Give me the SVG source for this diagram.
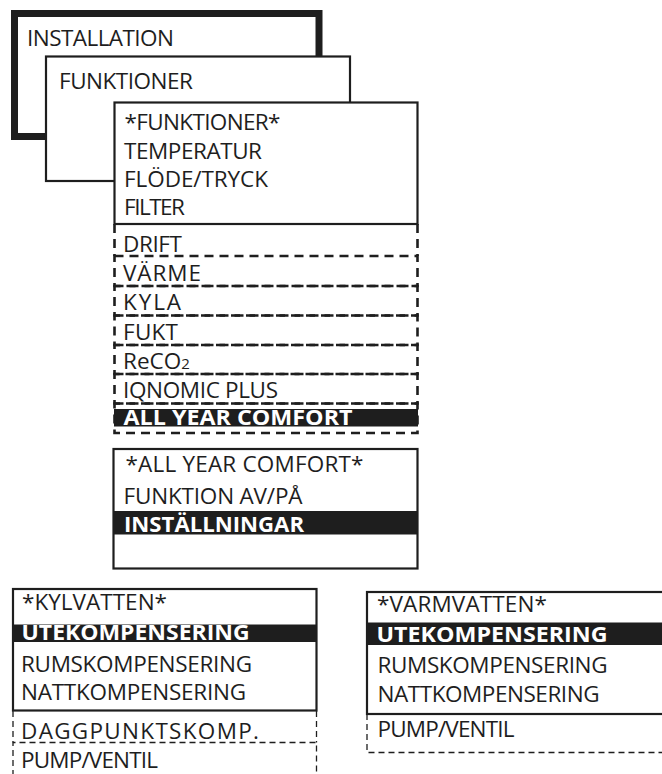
<svg xmlns="http://www.w3.org/2000/svg" width="662" height="774" viewBox="0 0 662 774">
<style>
text{font-family:"Open Sans","Noto Sans","Liberation Sans",sans-serif;font-size:22.5px;fill:#1e1e1e}
.b{font-weight:bold;fill:#fff;font-size:21.5px}
.box{fill:#fff;stroke:#1e1e1e;stroke-width:2.2}
.d1{fill:none;stroke:#1e1e1e;stroke-width:2.6;stroke-dasharray:9 6}
.d2{fill:none;stroke:#1e1e1e;stroke-width:1.3;stroke-dasharray:6 4}
.bar{fill:#1e1e1e}
</style>
<g id="installation">
<rect x="14.5" y="13.5" width="304.5" height="123" fill="#fff" stroke="#1e1e1e" stroke-width="7"/>
<text x="27" y="46" textLength="147" lengthAdjust="spacing">INSTALLATION</text>
</g>
<g id="funktioner">
<rect class="box" x="46" y="56.5" width="304" height="124.5"/>
<text x="59" y="88.5" textLength="134" lengthAdjust="spacing">FUNKTIONER</text>
</g>
<g id="funktioner-menu">
<rect class="box" x="114.5" y="102.5" width="303" height="121.5"/>
<text x="124.5" y="130" textLength="156" lengthAdjust="spacing">*FUNKTIONER*</text>
<text x="124" y="158.5" textLength="138" lengthAdjust="spacing">TEMPERATUR</text>
<text x="124" y="186.5" textLength="144" lengthAdjust="spacing">FLÖDE/TRYCK</text>
<text x="124" y="215" textLength="61" lengthAdjust="spacing">FILTER</text>
</g>
<g id="funktioner-list">
<path class="d1" d="M114.5 224V256M417.5 224V256"/>
<rect class="d1" x="114.5" y="256" width="303" height="30"/>
<text x="123" y="251.5" textLength="59" lengthAdjust="spacing">DRIFT</text>
<rect class="d1" x="114.5" y="286" width="303" height="29.5"/>
<text x="123" y="281" textLength="78" lengthAdjust="spacing">VÄRME</text>
<rect class="d1" x="114.5" y="315.5" width="303" height="29.5"/>
<text x="123" y="310" textLength="58" lengthAdjust="spacing">KYLA</text>
<rect class="d1" x="114.5" y="345" width="303" height="29"/>
<text x="123" y="339.5" textLength="55" lengthAdjust="spacing">FUKT</text>
<rect class="d1" x="114.5" y="374" width="303" height="29.5"/>
<text x="123" y="368.5">ReCO<tspan font-size="15">2</tspan></text>
<rect class="d1" x="114.5" y="403.5" width="303" height="29.5"/>
<text x="123" y="397.5" textLength="155" lengthAdjust="spacing">IQNOMIC PLUS</text>
<rect class="bar" x="114" y="409" width="304" height="17.5"/>
<text class="b" x="123.5" y="425" textLength="229" lengthAdjust="spacingAndGlyphs">ALL YEAR COMFORT</text>
</g>
<g id="all-year-comfort">
<rect class="box" x="113.5" y="449" width="304" height="119.5"/>
<text x="125.5" y="472" textLength="238" lengthAdjust="spacing">*ALL YEAR COMFORT*</text>
<text x="123.5" y="504" textLength="179" lengthAdjust="spacing">FUNKTION AV/PÅ</text>
<rect class="bar" x="113.5" y="511" width="304" height="23.5"/>
<text class="b" x="124" y="531.5" textLength="180" lengthAdjust="spacingAndGlyphs">INSTÄLLNINGAR</text>
</g>
<g id="kylvatten">
<rect class="box" x="13" y="589" width="303.5" height="121.5"/>
<text x="22" y="610" textLength="145" lengthAdjust="spacing">*KYLVATTEN*</text>
<rect class="bar" x="13" y="624.5" width="303.5" height="17.5"/>
<text class="b" x="21.5" y="640" textLength="228" lengthAdjust="spacingAndGlyphs">UTEKOMPENSERING</text>
<text x="21" y="671.5" textLength="231" lengthAdjust="spacing">RUMSKOMPENSERING</text>
<text x="21" y="700" textLength="225" lengthAdjust="spacing">NATTKOMPENSERING</text>
<path class="d2" d="M13 711V742.5M316.5 711V742.5"/>
<text x="21" y="738.5" textLength="238" lengthAdjust="spacing">DAGGPUNKTSKOMP.</text>
<path class="d2" d="M13 776V742.5H316.5V776"/>
<text x="21" y="768" textLength="137" lengthAdjust="spacing">PUMP/VENTIL</text>
</g>
<g id="varmvatten">
<rect class="box" x="367" y="592" width="320" height="122"/>
<text x="377" y="611.5" textLength="170" lengthAdjust="spacing">*VARMVATTEN*</text>
<rect class="bar" x="367" y="622.5" width="300" height="22.5"/>
<text class="b" x="376.5" y="642" textLength="231" lengthAdjust="spacingAndGlyphs">UTEKOMPENSERING</text>
<text x="377.5" y="672.5" textLength="230" lengthAdjust="spacing">RUMSKOMPENSERING</text>
<text x="377.5" y="701.5" textLength="222" lengthAdjust="spacing">NATTKOMPENSERING</text>
<path class="d2" d="M367 714V752.5H664"/>
<text x="377.5" y="736.5" textLength="137" lengthAdjust="spacing">PUMP/VENTIL</text>
</g>
<g id="connectors"/>
</svg>
